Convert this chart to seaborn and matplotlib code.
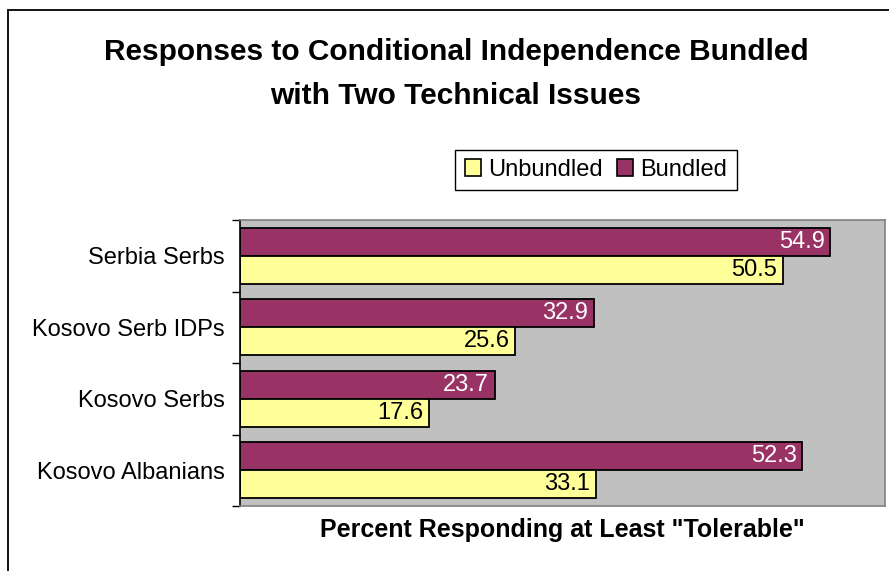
import pandas as pd
import seaborn as sns
import matplotlib.pyplot as plt
from matplotlib.patches import Rectangle, Patch

# values
groups = ['Serbia Serbs', 'Kosovo Serb IDPs', 'Kosovo Serbs', 'Kosovo Albanians']
unbundled = [50.5, 25.6, 17.6, 33.1]
bundled = [54.9, 32.9, 23.7, 52.3]
series = ['Bundled', 'Unbundled']
colors = {'Unbundled': '#FFFF99', 'Bundled': '#993366'}

df = pd.DataFrame({
    'Group': groups * 2,
    'Series': ['Bundled'] * len(groups) + ['Unbundled'] * len(groups),
    'Value': bundled + unbundled,
})

sns.set_style('white')
plt.rcParams['font.family'] = ['Liberation Sans', 'DejaVu Sans']
plt.rcParams['text.color'] = 'black'
plt.rcParams['axes.labelcolor'] = 'black'
plt.rcParams['ytick.color'] = 'black'

fig = plt.figure(figsize=(8.89, 5.71), dpi=100)
ax = fig.add_axes([240 / 889, 1 - 506 / 571, 645 / 889, 286 / 571])

sns.barplot(data=df, y='Group', x='Value', hue='Series', order=groups,
            hue_order=series, palette=colors, orient='h', width=0.78,
            saturation=1, edgecolor='black', linewidth=1.3, legend=False, ax=ax)

ax.set_facecolor('#C0C0C0')
ax.set_xlim(0, 60)
ax.set_ylim(3.5, -0.5)

# value labels inside the bar ends
for cont, name in zip(ax.containers, series):
    txt = ax.bar_label(cont, fmt='%.1f', padding=-4, fontsize=17,
                       color='white' if name == 'Bundled' else 'black')
    for t in txt:
        t.set_ha('right')

ax.set_xticks([])
ax.set_yticks(range(len(groups)))
ax.set_yticklabels(groups, fontsize=17)
ax.set_yticks([-0.5, 0.5, 1.5, 2.5, 3.5], minor=True)
ax.tick_params(axis='y', which='major', length=0, pad=11)
ax.tick_params(axis='y', which='minor', length=6, width=1, color='black', left=True)
ax.set_ylabel('')
ax.set_xlabel('Percent Responding at Least "Tolerable"', fontsize=18,
              fontweight='bold', labelpad=9)

for side in ['top', 'right', 'bottom']:
    ax.spines[side].set_color('#808080')
    ax.spines[side].set_linewidth(1.2)
ax.spines['left'].set_color('black')
ax.spines['left'].set_linewidth(1.2)

fig.text(456 / 889, 1 - 74 / 571,
         'Responses to Conditional Independence Bundled\nwith Two Technical Issues',
         ha='center', va='center', fontsize=21.5, fontweight='bold', linespacing=1.75)

handles = [Patch(facecolor=colors[s], edgecolor='black', linewidth=1.2)
           for s in ['Unbundled', 'Bundled']]
fig.legend(handles, ['Unbundled', 'Bundled'], loc='center',
           bbox_to_anchor=(596 / 889, 1 - 170 / 571), ncol=2, fontsize=17,
           frameon=True, fancybox=False, edgecolor='black', framealpha=1,
           handlelength=0.7, handleheight=0.7, handletextpad=0.3,
           columnspacing=0.6, borderpad=0.4)

# outer chart border
fig.add_artist(Rectangle((8 / 889, -0.1), 1.2, 1.1 - 10 / 571,
                         transform=fig.transFigure, fill=False,
                         edgecolor='black', linewidth=1.3))

plt.savefig('out.png', dpi=100)
